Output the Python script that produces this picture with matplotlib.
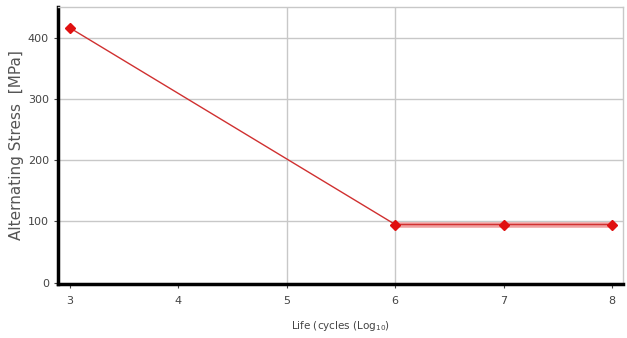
import matplotlib
matplotlib.use("Agg")
import matplotlib.pyplot as plt

life_log = [3, 6, 7, 8]
stress = [416, 95, 95, 95]
x_ticks = [3, 4, 5, 6, 7, 8]
y_ticks = [0, 100, 200, 300, 400]

fig = plt.figure(figsize=(6.27, 3.38), dpi=100)
ax = fig.add_axes([0.0925, 0.160, 0.901, 0.819])

ax.set_xlim(2.89, 8.10)
ax.set_ylim(-2, 450)

for y in y_ticks[1:]:
    ax.axhline(y, color="#c8c8c8", lw=1.0, zorder=0)
for x in [5, 6]:
    ax.axvline(x, color="#c8c8c8", lw=1.0, zorder=0)

# thicker light band on the endurance part
ax.plot(life_log[1:], stress[1:], color="#f0a0a0", lw=4, zorder=1, solid_capstyle="butt")
ax.plot(life_log, stress, color="#d03030", lw=1.0, zorder=2)
ax.plot(life_log, stress, ls="none", marker="D", ms=5, color="#e01010", zorder=3)

ax.set_xticks(x_ticks)
ax.set_yticks(y_ticks)
ax.tick_params(labelsize=8, colors="#444444", length=3, width=0.8)
ax.tick_params(axis="x", pad=6)

for s in ["left", "bottom"]:
    ax.spines[s].set_color("black")
    ax.spines[s].set_linewidth(2.5)
for s in ["top", "right"]:
    ax.spines[s].set_color("#c8c8c8")
    ax.spines[s].set_linewidth(1.0)

ax.set_ylabel("Alternating Stress  [MPa]", fontsize=11, color="#555555", labelpad=3)
ax.set_xlabel("Life (cycles (Log$_{10}$)", fontsize=7.5, color="#444444", labelpad=9)

fig.savefig("out.png", dpi=100)
